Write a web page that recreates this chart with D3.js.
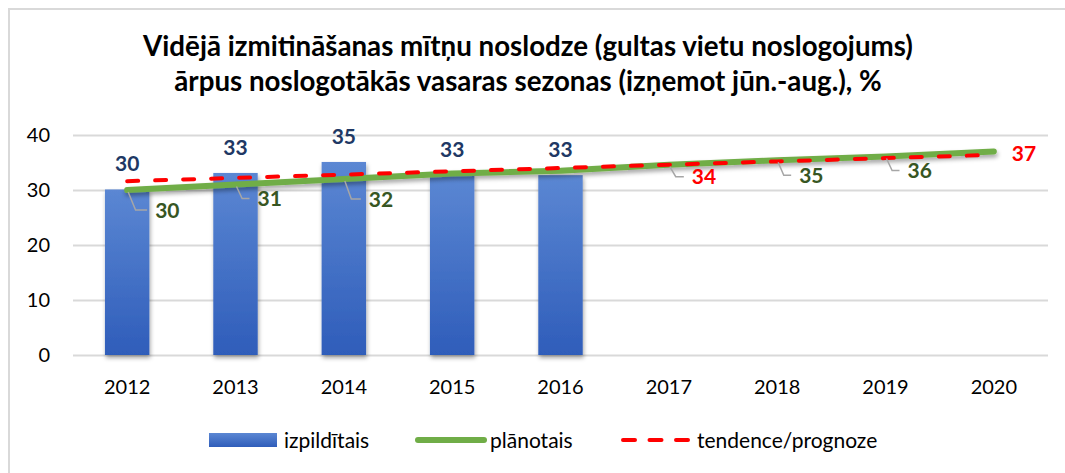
<!DOCTYPE html>
<html>
<head>
<meta charset="utf-8">
<script src="https://cdn.jsdelivr.net/npm/d3@7"></script>
<style>
    html, body { margin: 0; padding: 0; background: #fff; }
    svg { display: block; font-family: Lato, 'Open Sans', sans-serif; }
</style>
</head>
<body>
<svg id="chart" width="1065" height="473"></svg>
<script>
const years = ['2012', '2013', '2014', '2015', '2016', '2017', '2018', '2019', '2020'];
const actual = [30.1, 33.1, 35.1, 32.7, 32.7];
const actualLabels = ['30', '33', '35', '33', '33'];
const planned = [30, 31, 32, 33, 33.5, 34.6, 35.4, 36.1, 37];
const plannedLabels = ['30', '31', '32', '', '', '34', '35', '36', '37'];
const trend = [31.6, 32.2, 32.8, 33.4, 34.0, 34.6, 35.2, 35.8, 36.4];
const yTicks = [0, 10, 20, 30, 40];
const titleLines = [
    'Vidējā izmitināšanas mītņu noslodze (gultas vietu noslogojums)',
    'ārpus noslogotākās vasaras sezonas (izņemot jūn.-aug.), %'
];
const legendItems = ['izpildītais', 'plānotais', 'tendence/prognoze'];

// hand placed callouts, as in the original
const calloutOffsets = {
    '2012': { dx: 28, dy: 20, red: false },
    '2013': { dx: 22, dy: 14, red: false },
    '2014': { dx: 25, dy: 20, red: false },
    '2017': { dx: 23, dy: 12, red: true },
    '2018': { dx: 22, dy: 15, red: false },
    '2019': { dx: 22, dy: 14, red: false },
    '2020': { dx: 18, dy: 2, red: true, noLeader: true }
};

const svg = d3.select('#chart'),
    plotLeft = 73,
    plotRight = 1048,
    plotTop = 135,
    plotBottom = 355,
    green = '#70ad47',
    red = '#ff0000',
    grid = '#d9d9d9';

const x = d3.scaleBand().domain(years).range([plotLeft, plotRight]).paddingInner(0.59).paddingOuter(0.295);
const xp = d3.scalePoint().domain(years).range([plotLeft, plotRight]).padding(0.5);
const y = d3.scaleLinear().domain([0, 40]).range([plotBottom, plotTop]);

const defs = svg.append('defs');
const grad = defs.append('linearGradient')
    .attr('id', 'barGrad')
    .attr('x1', 0).attr('y1', 0).attr('x2', 0).attr('y2', 1);
grad.append('stop').attr('offset', '0%').attr('stop-color', '#5b87d3');
grad.append('stop').attr('offset', '100%').attr('stop-color', '#2f5dba');

const shadow = defs.append('filter')
    .attr('id', 'shadow')
    .attr('x', '-20%').attr('y', '-20%').attr('width', '140%').attr('height', '160%');
shadow.append('feDropShadow')
    .attr('dx', 1).attr('dy', 3)
    .attr('stdDeviation', 2)
    .attr('flood-color', '#000')
    .attr('flood-opacity', 0.35);

// chart frame
svg.append('rect')
    .attr('x', 9).attr('y', 9)
    .attr('width', 1080).attr('height', 480)
    .attr('fill', 'none')
    .attr('stroke', grid)
    .attr('stroke-width', 2);

// title
const title = svg.append('g');
title.selectAll('text')
    .data(titleLines)
    .join('text')
    .attr('x', 528)
    .attr('y', (d, i) => 56 + i * 35)
    .attr('text-anchor', 'middle')
    .attr('font-weight', 700)
    .attr('font-size', 24)
    .attr('fill', '#000')
    .text(d => d);

// fit title to the original width
const firstLine = title.select('text').node();
const fitSize = 24 * 770 / firstLine.getComputedTextLength();
title.selectAll('text').attr('font-size', fitSize);

// y axis with grid
const yAxis = svg.append('g')
    .attr('transform', 'translate(' + plotLeft + ',0)')
    .call(d3.axisLeft(y).tickValues(yTicks).tickSize(-(plotRight - plotLeft)).tickPadding(23));
yAxis.select('.domain').remove();
yAxis.selectAll('.tick line').attr('stroke', grid).attr('stroke-width', 2);
yAxis.selectAll('.tick text')
    .attr('font-family', 'Lato, "Open Sans", sans-serif')
    .attr('font-size', 20)
    .attr('fill', '#000');

// x axis
const xAxis = svg.append('g')
    .attr('transform', 'translate(0,' + plotBottom + ')')
    .call(d3.axisBottom(x).tickSize(0).tickPadding(25));
xAxis.select('.domain').remove();
xAxis.selectAll('.tick text')
    .attr('font-family', 'Lato, "Open Sans", sans-serif')
    .attr('font-size', 20)
    .attr('fill', '#000');

// bars
svg.append('g')
    .selectAll('rect')
    .data(actual)
    .join('rect')
    .attr('x', (d, i) => x(years[i]))
    .attr('y', d => y(d))
    .attr('width', x.bandwidth())
    .attr('height', d => y(0) - y(d))
    .attr('fill', 'url(#barGrad)')
    .attr('filter', 'url(#shadow)');

svg.append('g')
    .selectAll('text')
    .data(actual)
    .join('text')
    .attr('x', (d, i) => x(years[i]) + x.bandwidth() / 2)
    .attr('y', d => y(d) - 18)
    .attr('text-anchor', 'middle')
    .attr('font-weight', 700)
    .attr('font-size', 21)
    .attr('fill', '#203864')
    .text((d, i) => actualLabels[i]);

// planned line
const line = d3.line().x((d, i) => xp(years[i])).y(d => y(d));

svg.append('path')
    .datum(planned)
    .attr('d', line)
    .attr('fill', 'none')
    .attr('stroke', green)
    .attr('stroke-width', 6)
    .attr('stroke-linecap', 'round')
    .attr('stroke-linejoin', 'round')
    .attr('filter', 'url(#shadow)');

// trend line
svg.append('path')
    .datum(trend)
    .attr('d', line)
    .attr('fill', 'none')
    .attr('stroke', red)
    .attr('stroke-width', 4)
    .attr('stroke-dasharray', '11,17')
    .attr('stroke-linecap', 'round');

// planned callouts
const callouts = svg.append('g');
planned.forEach((v, i) => {
    const label = plannedLabels[i],
        o = calloutOffsets[years[i]];
    if (!label || !o) return;
    const px = xp(years[i]),
        py = y(v);
    if (!o.noLeader) {
        callouts.append('path')
            .attr('d', d3.line()([[px + 1, py + 2], [px + o.dx * 0.3, py + o.dy], [px + o.dx - 8, py + o.dy]]))
            .attr('fill', 'none')
            .attr('stroke', '#a6a6a6')
            .attr('stroke-width', 1.5);
    }
    callouts.append('text')
        .attr('x', px + o.dx)
        .attr('y', py + o.dy)
        .attr('dy', '0.36em')
        .attr('font-weight', 700)
        .attr('font-size', 21)
        .attr('fill', o.red ? red : '#375623')
        .text(label);
});

// legend
const legend = svg.append('g').attr('font-size', 21).attr('fill', '#000');
legend.append('rect')
    .attr('x', 209).attr('y', 433)
    .attr('width', 68).attr('height', 14)
    .attr('fill', 'url(#barGrad)');
legend.append('line')
    .attr('x1', 418).attr('x2', 484)
    .attr('y1', 440).attr('y2', 440)
    .attr('stroke', green)
    .attr('stroke-width', 6)
    .attr('stroke-linecap', 'round');
legend.append('line')
    .attr('x1', 623).attr('x2', 688)
    .attr('y1', 440).attr('y2', 440)
    .attr('stroke', red)
    .attr('stroke-width', 4)
    .attr('stroke-dasharray', '12,14.5')
    .attr('stroke-linecap', 'round');
legend.selectAll('text')
    .data(legendItems)
    .join('text')
    .attr('x', (d, i) => [284, 490, 697][i])
    .attr('y', 440)
    .attr('dy', '0.36em')
    .text(d => d);
</script>
</body>
</html>
